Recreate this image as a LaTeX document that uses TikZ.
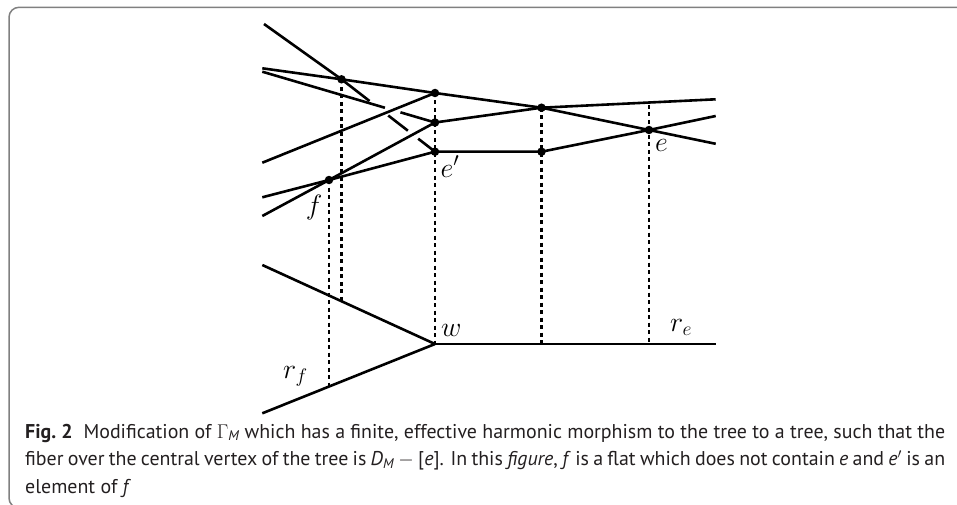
\RequirePackage{fix-cm}
\documentclass[tikz,border=0pt]{standalone}
\usepackage{amsmath}
\usepackage{fontspec}
\setmainfont{PT Sans}
\usepackage{graphicx}
\usetikzlibrary{calc}
\definecolor{captext}{HTML}{231F20}
\definecolor{framegray}{HTML}{808080}
\newlength\capw
\newcommand\capfont{\fontsize{17.5}{21}\selectfont}
\newcommand\capone{\textbf{Fig.\ 2}\hspace{0.55em}Modification of $\Gamma_{\textit{M}}$ which has a finite, effective harmonic morphism to the tree to a tree, such that the}
\newcommand\captwo{fiber over the central vertex of the tree is \textit{D}$_{\textit{M}}$ $-$ [\textit{e}]. In this \textit{figure}, \textit{f} is a flat which does not contain \textit{e} and \textit{e}$'$ is an}
\newcommand\capthree{element of \textit{f}}
\begin{document}
\settowidth{\capw}{\capfont\capone}%
\begin{tikzpicture}[x=1pt,y=-1pt,
  edge/.style={line width=2.6pt, line join=round},
  guide/.style={line width=2.1pt, dash pattern=on 4pt off 3.5pt},
  vtx/.style={circle, fill=black, inner sep=0pt, minimum size=8.5pt},
  lab/.style={inner sep=0pt, font=\fontsize{28}{30}\selectfont},
  captxt/.style={anchor=base west, inner sep=0pt, text=captext}]
\useasboundingbox (0,0) rectangle (957,505);
\clip (0,0) rectangle (957,505);
% frame
\draw[framegray, line width=1.5pt, rounded corners=10pt] (975,7.3) -- (9,7.3) -- (9,508) -- (40,508);
% free ends
\coordinate (A0) at (264,24);
\coordinate (T1a) at (262.3,68.3);
\coordinate (T2a) at (262.3,71.7);
\coordinate (Ca) at (262.3,162.7);
\coordinate (Fa) at (262.3,197.3);
\coordinate (Da) at (262.3,216);
\coordinate (T1b) at (715.7,143.8);
\coordinate (T2b) at (715.7,99.3);
\coordinate (Ab) at (715.7,116);
\coordinate (L1) at (262.3,265);
\coordinate (L2) at (262.3,413.3);
\coordinate (Rb) at (715.7,344);
\coordinate (W) at (435,344);
\coordinate (fb) at (329,386.3);
\coordinate (p1b) at (341.5,301);
\coordinate (m1b) at (541.5,344);
\coordinate (et) at (649,105);
\coordinate (eb) at (649,344);
% vertices
\coordinate (P1) at (341.5,79.3);
\coordinate (P2) at (435,93);
\coordinate (P3) at (435,122.5);
\coordinate (Ep) at (435,151.7);
\coordinate (Fv) at (329,180);
\coordinate (M1) at (541.5,107.7);
\coordinate (M2) at (541.5,151.7);
\coordinate (Ev) at (649,130);
% dashed fibres
\draw[guide] (Fv) -- (fb);
\draw[guide] (P1) -- (p1b);
\draw[guide] (P2) -- (W);
\draw[guide] (M1) -- (m1b);
\draw[guide] (et) -- (eb);
% upper graph
\draw[edge] (T1a) -- (P1) -- (P2) -- (M1) -- (Ev) -- (T1b);
\draw[edge] (T2a) -- ($(T2a)!0.71!(P3)$);
\draw[edge] ($(T2a)!0.80!(P3)$) -- (P3) -- (M1) -- (T2b);
\draw[edge] (A0) -- (P1) -- ($(P1)!0.30!(Ep)$);
\draw[edge] ($(P1)!0.50!(Ep)$) -- ($(P1)!0.71!(Ep)$);
\draw[edge] ($(P1)!0.82!(Ep)$) -- (Ep) -- (M2) -- (Ev) -- (Ab);
\draw[edge] (Ca) -- (P2);
\draw[edge] (Da) -- (Fv) -- (P3);
\draw[edge] (Fa) -- (Fv) -- (Ep);
% tree
\draw[edge] (L1) -- (W);
\draw[edge] (L2) -- (W);
\draw[edge] (W) -- (Rb);
% dots
\foreach \v in {P1,P2,P3,Ep,Fv,M1,M2,Ev}{\node[vtx] (d\v) at (\v) {};}
% labels
\node[lab, anchor=base] (lf) at (314,214.5) {$f$};
\node[lab, anchor=base west] (lep) at (440.5,177) {$e'$};
\node[lab, anchor=base west] (le) at (655,151.5) {$e$};
\node[lab, anchor=base west] (lw) at (441,336) {$w$};
\node[lab, anchor=base west] (lre) at (670,331.5) {$r_e$};
\node[lab, anchor=base west] (lrf) at (283,378) {$r_f$};
% caption
\pgfmathsetmacro\capscale{920/\capw}
\node[captxt] (cap1) at (25,438) {\scalebox{\capscale}{\capfont\capone}};
\node[captxt] (cap2) at (25,465.5) {\scalebox{\capscale}{\capfont\makebox[\capw][s]{\captwo}}};
\node[captxt] (cap3) at (25,493) {\scalebox{\capscale}{\capfont\capthree}};
\end{tikzpicture}
\end{document}
